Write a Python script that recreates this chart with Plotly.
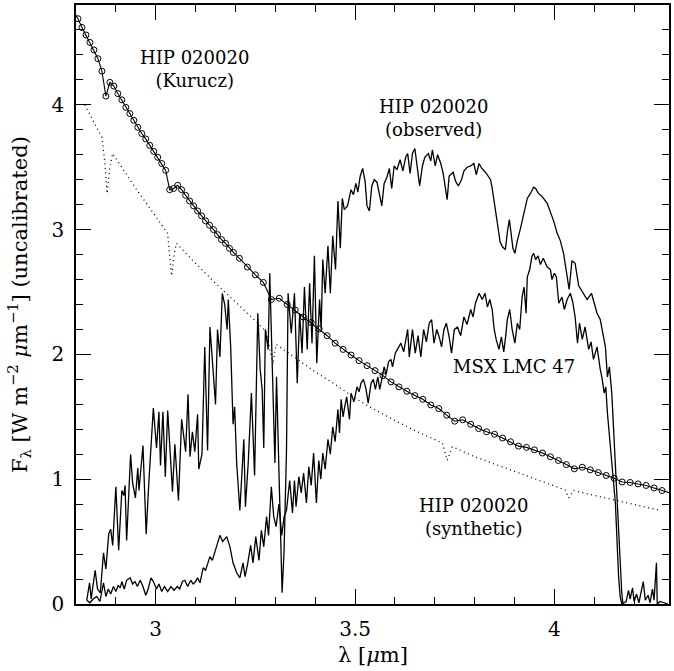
import plotly.graph_objects as go

# ---------------- data ----------------
kurucz_x = [2.805, 2.815, 2.825, 2.835, 2.845, 2.855, 2.865, 2.875, 2.885, 2.895,
            2.905, 2.915, 2.925, 2.935, 2.945, 2.955, 2.965, 2.975, 2.985, 2.995,
            3.005, 3.015, 3.025, 3.035, 3.045, 3.055, 3.065, 3.075, 3.085, 3.095,
            3.105, 3.115, 3.125, 3.135, 3.145, 3.155, 3.165, 3.175, 3.185, 3.195,
            3.21, 3.23, 3.25, 3.27, 3.29, 3.31, 3.33, 3.35, 3.37, 3.39,
            3.41, 3.43, 3.45, 3.47, 3.49, 3.51, 3.53, 3.55, 3.57, 3.59,
            3.61, 3.63, 3.65, 3.67, 3.69, 3.71, 3.73, 3.75, 3.77, 3.79,
            3.81, 3.83, 3.85, 3.87, 3.89, 3.91, 3.93, 3.95, 3.97, 3.99,
            4.01, 4.03, 4.05, 4.07, 4.09, 4.11, 4.13, 4.15, 4.17, 4.19,
            4.21, 4.23, 4.25, 4.27]
kurucz_y = [4.69, 4.62, 4.56, 4.50, 4.44, 4.37, 4.27, 4.07, 4.18, 4.15,
            4.09, 4.04, 3.98, 3.93, 3.876, 3.82, 3.77, 3.727, 3.675, 3.627,
            3.58, 3.53, 3.475, 3.32, 3.33, 3.355, 3.32, 3.275, 3.23, 3.19,
            3.15, 3.11, 3.07, 3.035, 3.00, 2.96, 2.92, 2.89, 2.85, 2.817,
            2.77, 2.70, 2.638, 2.577, 2.44, 2.45, 2.40, 2.355, 2.30, 2.256,
            2.205, 2.15, 2.09, 2.04, 1.995, 1.95, 1.91, 1.87, 1.83, 1.78,
            1.74, 1.705, 1.67, 1.64, 1.595, 1.566, 1.513, 1.465, 1.476, 1.44,
            1.406, 1.38, 1.36, 1.33, 1.30, 1.265, 1.255, 1.235, 1.21, 1.18,
            1.15, 1.117, 1.083, 1.096, 1.075, 1.053, 1.03, 1.008, 0.978, 0.974,
            0.962, 0.95, 0.93, 0.909]
kurucz_edge_x = [2.795, 4.30]
kurucz_edge_y = [4.74, 0.88]

synth_x = [2.822, 2.845, 2.865, 2.872, 2.878, 2.885, 2.892, 2.95, 3.00, 3.03,
           3.036, 3.04, 3.046, 3.052, 3.10, 3.15, 3.20, 3.25, 3.277, 3.285,
           3.294, 3.302, 3.35, 3.40, 3.45, 3.50, 3.531, 3.60, 3.65, 3.70,
           3.719, 3.731, 3.744, 3.80, 3.85, 3.90, 3.95, 4.00, 4.027, 4.036,
           4.048, 4.10, 4.15, 4.20, 4.26]
synth_y = [4.00, 3.86, 3.74, 3.55, 3.29, 3.50, 3.61, 3.33, 3.10, 2.97,
           2.75, 2.63, 2.80, 2.89, 2.73, 2.57, 2.42, 2.27, 2.18, 2.05,
           1.92, 2.08, 1.97, 1.86, 1.76, 1.65, 1.59, 1.47, 1.39, 1.32,
           1.29, 1.15, 1.26, 1.18, 1.12, 1.06, 1.00, 0.945, 0.914, 0.85,
           0.91, 0.87, 0.835, 0.80, 0.754]

obs_x = [2.827, 2.834, 2.838, 2.848, 2.854, 2.861, 2.869, 2.875, 2.882, 2.887,
         2.892, 2.900, 2.907, 2.915, 2.920, 2.923, 2.927, 2.937, 2.942, 2.949,
         2.955, 2.958, 2.968, 2.976, 2.983, 2.994, 3.002, 3.008, 3.012, 3.018,
         3.024, 3.030, 3.042, 3.048, 3.057, 3.065, 3.075, 3.081, 3.086, 3.092,
         3.098, 3.105, 3.108, 3.116, 3.123, 3.130, 3.136, 3.144, 3.150, 3.155,
         3.161, 3.167, 3.173, 3.179, 3.182, 3.188, 3.194, 3.198, 3.203, 3.211,
         3.215, 3.221, 3.225, 3.232, 3.240, 3.248, 3.256, 3.262, 3.267, 3.271,
         3.275, 3.282, 3.286, 3.292, 3.299, 3.303, 3.309, 3.317, 3.322, 3.328,
         3.332, 3.340, 3.348, 3.355, 3.361, 3.367, 3.373, 3.380, 3.386, 3.392,
         3.398, 3.404, 3.411, 3.415, 3.419, 3.425, 3.432, 3.438, 3.444, 3.451,
         3.457, 3.463, 3.468, 3.473, 3.481, 3.487, 3.490, 3.496, 3.502, 3.507,
         3.513, 3.519, 3.525, 3.530, 3.536, 3.542, 3.548, 3.555, 3.561, 3.567,
         3.573, 3.580, 3.586, 3.592, 3.598, 3.605, 3.613, 3.620, 3.627, 3.632,
         3.638, 3.644, 3.650, 3.656, 3.662, 3.669, 3.675, 3.684, 3.690, 3.694,
         3.701, 3.707, 3.715, 3.721, 3.726, 3.731, 3.736, 3.746, 3.752, 3.759,
         3.767, 3.773, 3.781, 3.790, 3.798, 3.804, 3.811, 3.818, 3.827, 3.834,
         3.840, 3.844, 3.852, 3.858, 3.864, 3.870, 3.877, 3.882, 3.887, 3.891,
         3.896, 3.901, 3.907, 3.915, 3.923, 3.932, 3.940, 3.948, 3.953, 3.960,
         3.968, 3.975, 3.982, 3.990, 3.998, 4.007, 4.015, 4.023, 4.030, 4.037,
         4.044, 4.052, 4.061, 4.073, 4.082, 4.093, 4.100, 4.107, 4.115, 4.122,
         4.128, 4.133, 4.138, 4.144, 4.148, 4.153, 4.157, 4.161, 4.165, 4.169,
         4.172]
obs_y = [0.03, 0.17, 0.04, 0.27, 0.12, 0.09, 0.41, 0.28, 0.56, 0.60,
         0.47, 0.94, 0.43, 0.91, 0.87, 0.95, 0.51, 1.20, 0.97, 0.85,
         1.09, 0.91, 1.27, 0.56, 0.99, 1.57, 1.25, 1.54, 1.11, 1.54,
         1.02, 1.55, 0.90, 1.28, 0.83, 1.48, 1.22, 1.68, 1.18, 1.38,
         1.22, 1.52, 1.08, 1.20, 2.06, 1.23, 2.22, 1.82, 1.60, 2.20,
         1.98, 2.49, 2.40, 2.20, 2.44, 2.06, 1.44, 1.58, 1.13, 0.75,
         0.99, 1.32, 0.78, 1.13, 1.69, 1.03, 2.33, 1.88, 1.72, 1.25,
         2.20, 2.04, 2.65, 1.90, 1.13, 1.82, 1.10, 0.09, 0.43, 1.23,
         2.49, 2.17, 2.49, 1.77, 2.33, 2.01, 2.54, 2.04, 2.57, 2.09,
         2.79, 1.93, 2.44, 2.20, 2.76, 2.49, 2.87, 2.49, 2.95, 2.68,
         3.23, 2.85, 3.25, 3.16, 3.19, 3.27, 3.32, 3.28, 3.37, 3.30,
         3.43, 3.49, 3.39, 3.19, 3.15, 3.35, 3.40, 3.38, 3.29, 3.19,
         3.37, 3.42, 3.49, 3.33, 3.51, 3.48, 3.56, 3.47, 3.58, 3.61,
         3.45, 3.61, 3.65, 3.50, 3.35, 3.51, 3.58, 3.61, 3.55, 3.64,
         3.51, 3.60, 3.53, 3.45, 3.35, 3.24, 3.43, 3.46, 3.39, 3.35,
         3.40, 3.47, 3.50, 3.51, 3.53, 3.44, 3.53, 3.49, 3.46, 3.43,
         3.40, 3.33, 3.16, 3.00, 2.90, 2.86, 2.84, 2.98, 3.08, 2.98,
         2.85, 2.81, 2.91, 3.01, 3.13, 3.25, 3.29, 3.34, 3.33, 3.29,
         3.27, 3.24, 3.21, 3.14, 3.07, 2.97, 2.91, 2.81, 2.68, 2.52,
         2.75, 2.73, 2.55, 2.49, 2.44, 2.49, 2.40, 2.33, 2.28, 2.17,
         2.06, 1.82, 1.90, 1.69, 1.42, 1.15, 0.89, 0.62, 0.35, 0.09,
         0.00]

msx_x = [2.827, 2.835, 2.843, 2.852, 2.860, 2.869, 2.875, 2.881, 2.887, 2.894,
         2.900, 2.906, 2.911, 2.915, 2.921, 2.927, 2.936, 2.942, 2.948, 2.954,
         2.961, 2.968, 2.975, 2.981, 2.988, 2.994, 3.002, 3.008, 3.015, 3.022,
         3.030, 3.038, 3.046, 3.054, 3.060, 3.067, 3.073, 3.080, 3.088, 3.094,
         3.100, 3.105, 3.111, 3.119, 3.125, 3.136, 3.142, 3.152, 3.161, 3.168,
         3.178, 3.186, 3.194, 3.203, 3.211, 3.219, 3.224, 3.231, 3.238, 3.244,
         3.251, 3.259, 3.265, 3.271, 3.278, 3.283, 3.290, 3.296, 3.302, 3.309,
         3.316, 3.322, 3.328, 3.336, 3.343, 3.348, 3.352, 3.359, 3.365, 3.371,
         3.378, 3.384, 3.390, 3.396, 3.403, 3.409, 3.414, 3.419, 3.425, 3.432,
         3.438, 3.444, 3.450, 3.457, 3.461, 3.465, 3.470, 3.474, 3.479, 3.486,
         3.490, 3.497, 3.505, 3.510, 3.515, 3.521, 3.527, 3.533, 3.540, 3.546,
         3.551, 3.557, 3.562, 3.567, 3.573, 3.578, 3.584, 3.590, 3.594, 3.601,
         3.607, 3.615, 3.622, 3.628, 3.632, 3.636, 3.644, 3.651, 3.658, 3.665,
         3.672, 3.679, 3.686, 3.692, 3.698, 3.705, 3.711, 3.717, 3.723, 3.729,
         3.736, 3.742, 3.749, 3.757, 3.765, 3.773, 3.781, 3.790, 3.796, 3.802,
         3.811, 3.819, 3.826, 3.832, 3.838, 3.844, 3.849, 3.854, 3.861, 3.867,
         3.873, 3.878, 3.882, 3.888, 3.894, 3.901, 3.907, 3.913, 3.919, 3.924,
         3.929, 3.932, 3.938, 3.944, 3.948, 3.953, 3.959, 3.965, 3.972, 3.982,
         3.990, 3.994, 4.000, 4.005, 4.011, 4.019, 4.025, 4.032, 4.040, 4.046,
         4.052, 4.058, 4.063, 4.070, 4.077, 4.086, 4.092, 4.098, 4.107, 4.115,
         4.119, 4.125, 4.129, 4.133, 4.138, 4.144, 4.148, 4.153, 4.157, 4.161,
         4.165, 4.169, 4.180, 4.186, 4.190, 4.196, 4.200, 4.206, 4.212, 4.218,
         4.223, 4.228, 4.235, 4.240, 4.246, 4.250, 4.256, 4.258, 4.265, 4.275,
         4.285]
msx_y = [0.03, 0.01, 0.04, 0.06, 0.02, 0.17, 0.06, 0.12, 0.08, 0.14,
         0.10, 0.15, 0.13, 0.18, 0.12, 0.19, 0.21, 0.16, 0.18, 0.14,
         0.19, 0.14, 0.07, 0.12, 0.21, 0.18, 0.12, 0.16, 0.10, 0.14,
         0.10, 0.14, 0.11, 0.14, 0.12, 0.18, 0.19, 0.14, 0.19, 0.16,
         0.18, 0.21, 0.17, 0.29, 0.27, 0.38, 0.35, 0.46, 0.55, 0.50,
         0.54, 0.46, 0.33, 0.25, 0.21, 0.33, 0.22, 0.33, 0.47, 0.33,
         0.54, 0.35, 0.59, 0.46, 0.70, 0.55, 0.94, 0.70, 0.62, 0.80,
         0.55, 0.70, 0.75, 0.99, 0.73, 0.99, 0.78, 1.02, 0.89, 1.05,
         0.81, 1.10, 0.95, 1.21, 0.81, 1.15, 1.00, 1.21, 1.08, 1.32,
         1.20, 1.42, 1.30, 1.56, 1.37, 1.64, 1.50, 1.58, 1.66, 1.48,
         1.69, 1.62, 1.74, 1.70, 1.77, 1.80, 1.73, 1.61, 1.77, 1.80,
         1.72, 1.82, 1.72, 1.80, 1.90, 1.84, 1.94, 1.96, 1.90, 2.01,
         2.04, 2.09, 2.02, 2.14, 2.20, 1.98, 2.20, 2.01, 2.15, 1.98,
         2.20, 2.10, 2.25, 2.28, 2.09, 2.20, 2.14, 2.06, 2.20, 2.25,
         2.14, 2.01, 2.20, 2.22, 2.15, 2.30, 2.24, 2.36, 2.30, 2.41,
         2.49, 2.44, 2.49, 2.38, 2.44, 2.36, 2.20, 2.12, 2.04, 2.14,
         2.02, 2.15, 2.28, 2.36, 2.20, 2.09, 2.25, 2.20, 2.46, 2.54,
         2.33, 2.62, 2.68, 2.79, 2.81, 2.76, 2.79, 2.72, 2.77, 2.70,
         2.68, 2.60, 2.65, 2.62, 2.41, 2.46, 2.36, 2.44, 2.49, 2.42,
         2.30, 2.09, 2.25, 2.12, 2.22, 2.04, 2.10, 1.96, 2.06, 1.88,
         1.82, 1.69, 1.74, 1.53, 1.37, 1.15, 0.99, 0.81, 0.49, 0.22,
         0.06, 0.00, 0.02, 0.11, 0.04, 0.13, 0.02, 0.08, 0.01, 0.10,
         0.18, 0.03, 0.07, 0.01, 0.12, 0.03, 0.33, 0.00, 0.02, 0.01,
         0.00]

x_ticks = [3, 3.5, 4]
x_tick_labels = ["3", "3.5", "4"]
y_ticks = [0, 1, 2, 3, 4]
y_tick_labels = ["0", "1", "2", "3", "4"]

FONT = "DejaVu Serif"
BLACK = "#000000"

fig = go.Figure()

fig.add_trace(go.Scatter(x=synth_x, y=synth_y, mode="lines",
                         line=dict(color=BLACK, width=1.3, dash="1px,3.5px"),
                         showlegend=False))
fig.add_trace(go.Scatter(x=msx_x, y=msx_y, mode="lines",
                         line=dict(color=BLACK, width=1.3), showlegend=False))
fig.add_trace(go.Scatter(x=obs_x, y=obs_y, mode="lines",
                         line=dict(color=BLACK, width=1.3), showlegend=False))
fig.add_trace(go.Scatter(x=[kurucz_edge_x[0]] + kurucz_x + [kurucz_edge_x[1]],
                         y=[kurucz_edge_y[0]] + kurucz_y + [kurucz_edge_y[1]],
                         mode="lines", line=dict(color=BLACK, width=1.1),
                         showlegend=False))
fig.add_trace(go.Scatter(x=kurucz_x, y=kurucz_y, mode="markers",
                         marker=dict(symbol="circle-open", size=6, color=BLACK,
                                     line=dict(width=1, color=BLACK)),
                         showlegend=False))

label_font = dict(family=FONT, size=18, color=BLACK)
labels = [
    (3.098, 4.286, "HIP 020020<br>(Kurucz)"),
    (3.696, 3.893, "HIP 020020<br>(observed)"),
    (3.899, 1.90, "MSX LMC 47"),
    (3.798, 0.698, "HIP 020020<br>(synthetic)"),
]
for lx, ly, lt in labels:
    fig.add_annotation(x=lx, y=ly, xref="x", yref="y", text=lt, showarrow=False,
                       font=label_font, align="center",
                       xanchor="center", yanchor="middle")

# axis titles
fig.add_annotation(x=0.5, y=-0.085, xref="paper", yref="paper",
                   text="λ [<i>μ</i>m]", showarrow=False,
                   font=dict(family=FONT, size=21, color=BLACK),
                   xanchor="center", yanchor="middle")
fig.add_annotation(x=-0.097, y=0.5, xref="paper", yref="paper",
                   text="F<sub>λ</sub> [W m<sup>−2</sup> <i>μ</i>m<sup>−1</sup>] (uncalibrated)",
                   showarrow=False, textangle=-90,
                   font=dict(family=FONT, size=21, color=BLACK),
                   xanchor="center", yanchor="middle")

axis_common = dict(showgrid=False, zeroline=False, showline=True,
                   linecolor=BLACK, linewidth=1.5, mirror="allticks",
                   ticks="inside", ticklen=15, tickwidth=1.2, tickcolor=BLACK,
                   tickfont=dict(family=FONT, size=20, color=BLACK))

fig.update_xaxes(range=[2.8, 4.2875], tickvals=x_ticks, ticktext=x_tick_labels,
                 minor=dict(dtick=0.1, ticks="inside", ticklen=7,
                            tickwidth=1.2, tickcolor=BLACK, showgrid=False),
                 ticklabelstandoff=6,
                 **axis_common)
fig.update_yaxes(range=[0, 4.80], tickvals=y_ticks, ticktext=y_tick_labels,
                 minor=dict(dtick=0.2, ticks="inside", ticklen=7,
                            tickwidth=1.2, tickcolor=BLACK, showgrid=False),
                 ticklabelstandoff=6,
                 **axis_common)

fig.update_layout(width=674, height=671,
                  margin=dict(l=76, r=3, t=5, b=67),
                  plot_bgcolor="white", paper_bgcolor="white",
                  showlegend=False)

fig.write_html("out.html")
